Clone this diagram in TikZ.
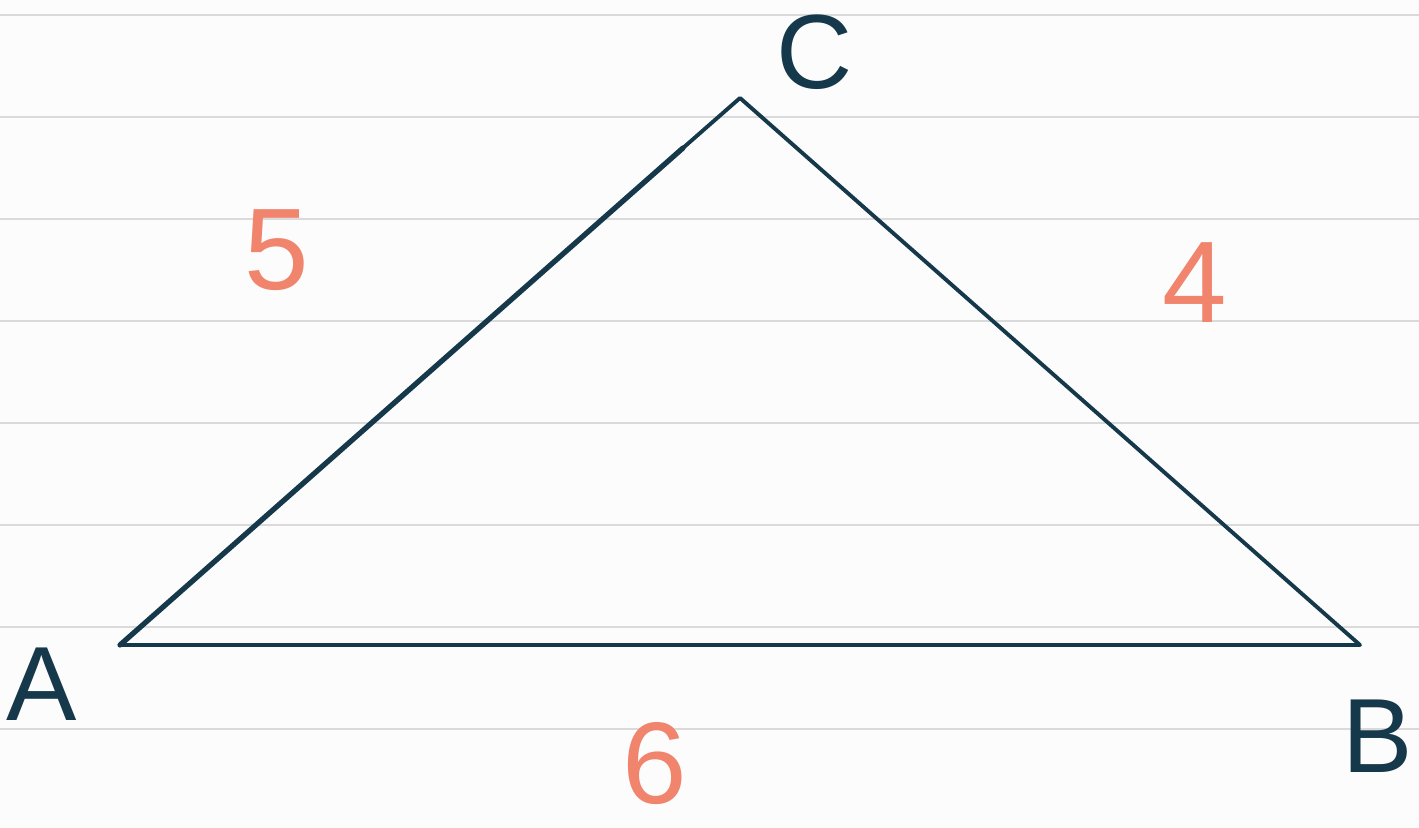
\documentclass[tikz,border=0pt]{standalone}
\usepackage{fontspec}
\setmainfont{Liberation Sans}
\definecolor{ink}{HTML}{15384A}
\definecolor{salmon}{HTML}{F0846C}
\definecolor{paper}{HTML}{FCFCFC}
\definecolor{rule}{HTML}{DADADA}
\tikzset{
  ruled/.style={draw=rule, line width=0.6pt},
  side/.style={draw=ink, line width=1.1pt, line join=round, line cap=round},
  vlabel/.style={text=ink, font=\fontsize{30}{30}\selectfont},
  slabel/.style={text=salmon, font=\fontsize{33}{33}\selectfont}
}
\begin{document}
\begin{tikzpicture}[x=0.01cm,y=-0.01cm]
\fill[paper] (0,0) rectangle (1419,828);
\useasboundingbox (0,0) rectangle (1419,828);
\foreach \y in {15,117,219,321,423,525,627,729}
  \draw[ruled] (0,\y) -- (1419,\y);
\coordinate (A) at (120,645);
\coordinate (B) at (1360,645);
\coordinate (C) at (740,98);
\coordinate (K) at (683,148);
\draw[side] (A) -- (B) -- (C) -- (K);
\draw[side, line width=1.5pt] (K) -- (A);
\node[vlabel] (lc) at (815,52) {C};
\node[vlabel] (la) at (42,684) {A};
\node[vlabel] (lb) at (1378,736) {B};
\node[slabel] (l5) at (277,250) {5};
\node[slabel] (l4) at (1195,283) {4};
\node[slabel] (l6) at (655,764) {6};
\end{tikzpicture}
\end{document}
